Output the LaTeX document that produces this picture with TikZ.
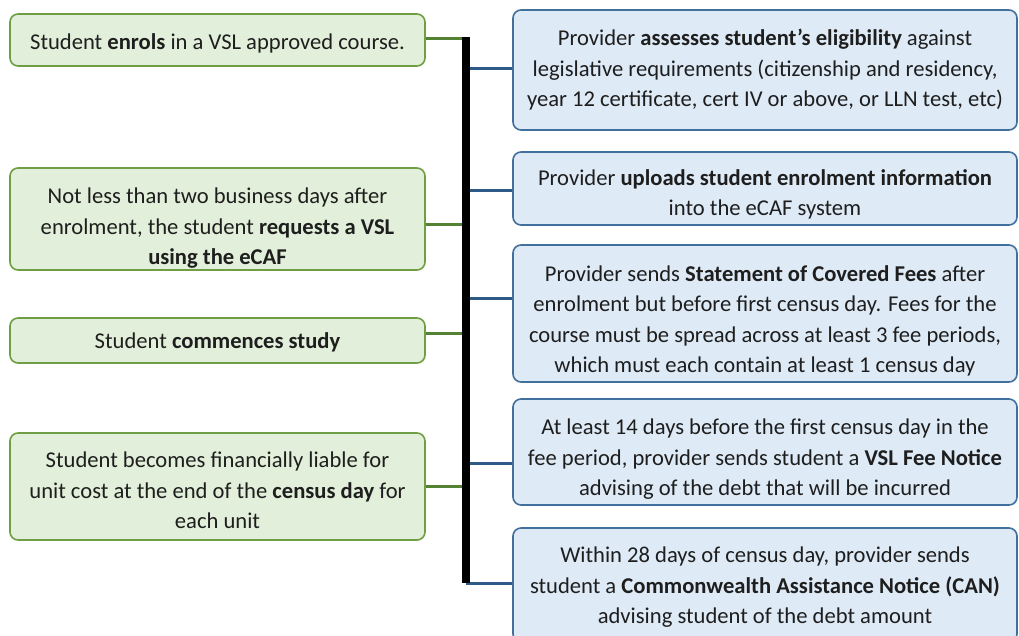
\documentclass[tikz,border=0pt]{standalone}
\usepackage{fontspec}
\setmainfont{Carlito}
\definecolor{gfill}{HTML}{E2EFDA}
\definecolor{gdraw}{HTML}{6F9E45}
\definecolor{gline}{HTML}{548235}
\definecolor{bfill}{HTML}{DEEAF6}
\definecolor{bdraw}{HTML}{41709C}
\definecolor{bline}{HTML}{2E5A88}
\definecolor{txt}{HTML}{1E1E1E}
% text block lowered by #1 pt inside its box
\newcommand{\tb}[2]{\raisebox{\dimexpr-5.6pt-#1pt\relax}[0pt][0pt]{\begin{tabular}{@{}c@{}}#2\end{tabular}}}
\begin{document}
\begin{tikzpicture}[x=1pt,y=-1pt,
  box/.style={rectangle,rounded corners=8pt,line width=1.6pt,inner sep=0pt,
    text=txt,font=\fontsize{22.6}{30.5}\selectfont},
  gbox/.style={box,fill=gfill,draw=gdraw,minimum width=415pt},
  bbox/.style={box,fill=bfill,draw=bdraw,minimum width=504pt},
  gconn/.style={draw=gline,line width=3pt},
  bconn/.style={draw=bline,line width=3pt},
  bar/.style={draw=black,line width=8pt,line cap=butt}]
\useasboundingbox (0,0) rectangle (1019,635);
% left boxes
\node[gbox,minimum height=52pt] (L1) at (217.5,40) {\tb{2.5}{Student \textbf{enrols} in a VSL approved course.}};
\node[gbox,minimum height=102pt] (L2) at (217.5,219) {\tb{8.5}{Not less than two business days after\\enrolment, the student \textbf{requests a VSL}\\\textbf{using the eCAF}}};
\node[gbox,minimum height=45pt] (L3) at (217.5,340.5) {\tb{1}{Student \textbf{commences study}}};
\node[gbox,minimum height=107pt] (L4) at (217.5,486.5) {\tb{5}{Student becomes financially liable for\\unit cost at the end of the \textbf{census day} for\\each unit}};
% right boxes
\node[bbox,minimum height=120pt] (R1) at (765,70) {\tb{-0.5}{Provider \textbf{assesses student’s eligibility} against\\legislative requirements (citizenship and residency,\\year 12 certificate, cert IV or above, or LLN test, etc)}};
\node[bbox,minimum height=73pt] (R2) at (765,188.5) {\tb{5.5}{Provider \textbf{uploads student enrolment information}\\into the eCAF system}};
\node[bbox,minimum height=137pt] (R3) at (765,313.5) {\tb{7}{Provider sends \textbf{Statement of Covered Fees} after\\enrolment but before first census day. Fees for the\\course must be spread across at least 3 fee periods,\\which must each contain at least 1 census day}};
\node[bbox,minimum height=106pt] (R4) at (765,452) {\tb{6.5}{At least 14 days before the first census day in the\\fee period, provider sends student a \textbf{VSL Fee Notice}\\advising of the debt that will be incurred}};
\node[bbox,minimum height=114pt] (R5) at (765,585) {\tb{1.5}{Within 28 days of census day, provider sends\\student a \textbf{Commonwealth Assistance Notice (CAN)}\\advising student of the debt amount}};
% bar coordinates
\coordinate (bt) at (466,37);
\coordinate (bb) at (466,583);
\coordinate (g1) at (466,38);
\coordinate (g2) at (466,224);
\coordinate (g3) at (466,333);
\coordinate (g4) at (466,486);
\coordinate (b1) at (466,68);
\coordinate (b2) at (466,190);
\coordinate (b3) at (466,298);
\coordinate (b4) at (466,463);
\coordinate (b5) at (466,583);
% connectors
\foreach \i in {1,...,4} {\draw[gconn] (L\i.east |- g\i) -- (g\i);}
\foreach \i in {1,...,5} {\draw[bconn] (b\i) -- (b\i -| R\i.west);}
\draw[bar] (bt) -- (bb);
\end{tikzpicture}
\end{document}
